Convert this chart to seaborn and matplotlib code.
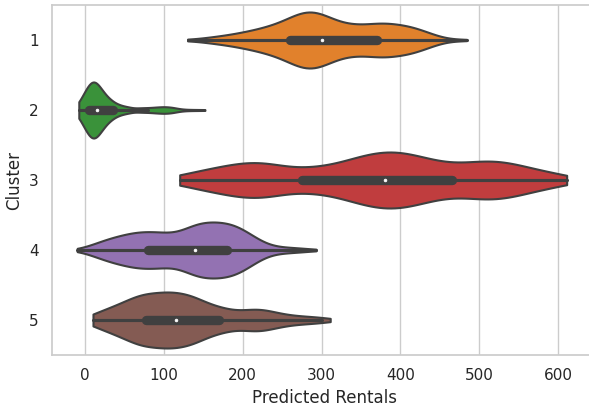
import seaborn as sns
import matplotlib.pyplot as plt
import pandas as pd
import numpy as np

clusters = ['1', '2', '3', '4', '5']
colors = ['#ff7f0e', '#2ca02c', '#d62728', '#9467bd', '#8c564b']

# predicted rentals per cluster, binned: value -> number of hours
c1_vals = [130, 140, 150, 160, 170, 180, 190, 200, 210, 220, 230, 240, 250, 260,
           270, 280, 290, 300, 310, 320, 330, 340, 350, 360, 370, 380, 390, 400,
           410, 420, 430, 440, 450, 460, 470, 484]
c1_counts = [1, 1, 2, 3, 4, 5, 6, 8, 9, 11, 13, 15, 18, 22,
             26, 29, 29, 26, 22, 18, 16, 15, 15, 15, 17, 17, 16, 15,
             14, 12, 9, 6, 3, 1, 1, 1]

c2_vals = [-8, -5, 0, 5, 10, 15, 20, 25, 30, 35, 40, 45, 50, 55, 60,
           70, 80, 90, 100, 110, 120, 130, 140, 152]
c2_counts = [4, 8, 16, 24, 29, 25, 18, 13, 10, 7, 5, 4, 3, 3, 2,
             4, 4, 5, 6, 5, 2, 1, 1, 1]

c3_vals = [120, 140, 160, 180, 200, 220, 240, 260, 280, 300, 320, 340, 360,
           380, 400, 420, 440, 460, 480, 500, 520, 540, 560, 580, 600, 611]
c3_counts = [6, 8, 12, 15, 18, 20, 17, 10, 13, 13, 16, 22, 27,
             30, 30, 25, 20, 16, 16, 20, 21, 18, 13, 9, 6, 3]

c4_vals = [-10, 0, 10, 20, 30, 40, 50, 60, 70, 80, 90, 100, 110, 120, 130, 140,
           150, 160, 170, 180, 190, 200, 210, 220, 230, 240, 250, 260, 270, 280, 293]
c4_counts = [1, 3, 6, 9, 12, 14, 16, 18, 19, 19, 19, 18, 17, 19, 23, 27,
             29, 29, 29, 28, 26, 22, 16, 11, 6, 4, 3, 3, 2, 2, 1]

c5_vals = [10, 20, 30, 40, 50, 60, 70, 80, 90, 100, 110, 120, 130, 140, 150, 160,
           170, 180, 190, 200, 210, 220, 230, 240, 250, 260, 270, 280, 290, 300, 311]
c5_counts = [8, 8, 12, 15, 18, 22, 26, 26, 27, 27, 29, 26, 26, 23, 18, 15,
             13, 11, 9, 9, 11, 12, 10, 8, 6, 5, 4, 4, 3, 3, 2]

all_vals = [c1_vals, c2_vals, c3_vals, c4_vals, c5_vals]
all_counts = [c1_counts, c2_counts, c3_counts, c4_counts, c5_counts]

frames = []
for c, v, n in zip(clusters, all_vals, all_counts):
    frames.append(pd.DataFrame({'Cluster': c,
                                'Predicted Rentals': np.repeat(v, n)}))
df = pd.concat(frames, ignore_index=True)

sns.set_theme(style='whitegrid')
fig, ax = plt.subplots(figsize=(5.89, 4.11), dpi=100)
sns.violinplot(data=df, x='Predicted Rentals', y='Cluster',
               hue='Cluster', order=clusters, hue_order=clusters,
               palette=colors, legend=False, orient='h',
               cut=0, density_norm='width', bw_method=0.2,
               linewidth=1.5, linecolor='.25',
               inner_kws=dict(marker='.'), ax=ax)
# smaller white median dots
for ln in ax.lines:
    if ln.get_marker() == '.':
        ln.set_markersize(4)
        ln.set_markeredgewidth(0.5)
# right edge of the axes runs past the picture
ax.set_xlim(-42, 649.5)
ax.set_xticks([0, 100, 200, 300, 400, 500, 600])
ax.set_position([52/589, 56/411, 545/589, 350/411])
fig.savefig('out.png', dpi=100)
